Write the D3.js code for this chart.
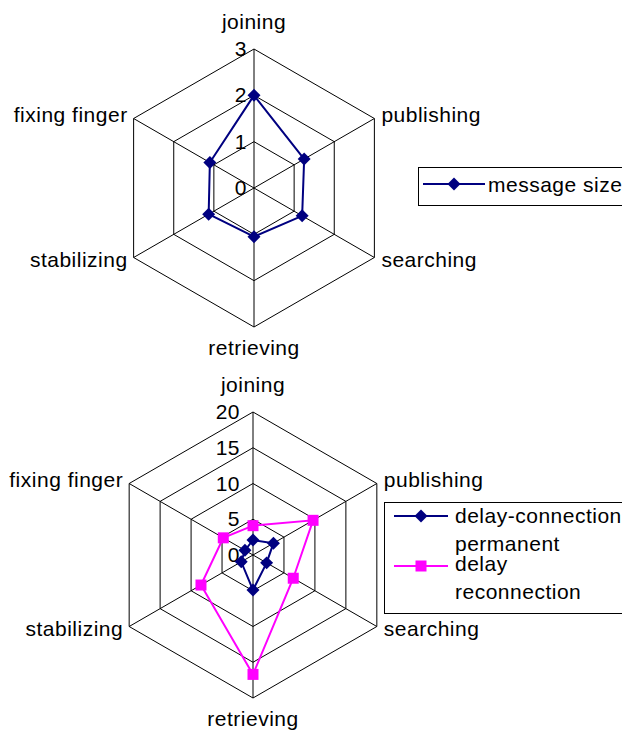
<!DOCTYPE html>
<html>
<head>
<meta charset="utf-8">
<script src="https://cdn.jsdelivr.net/npm/d3@7"></script>
<style>
  body { margin: 0; background: #fff; }
  svg { display: block; }
  text { font-family: "Liberation Sans", Arial, sans-serif; font-size: 21px; fill: #000; letter-spacing: 0.5px; }
</style>
</head>
<body>
<svg id="chart" width="622" height="734"></svg>
<script>
const categories = ["joining", "publishing", "searching", "retrieving", "stabilizing", "fixing finger"];

// top chart
const messageSize = [2, 1.25, 1.2, 1.05, 1.13, 1.1];
const topTicks = [0, 1, 2, 3];
const topSeriesNames = ["message size"];

// bottom chart
const delayConnection = [2.1, 3.3, 2.2, 4.9, 1.9, 1.3];
const permanentDelayReconnection = [4.1, 9.7, 6.5, 16.7, 8.4, 4.8];
const bottomTicks = [0, 5, 10, 15, 20];
const bottomSeriesNames = ["delay-connection", "permanent delay reconnection"];

const NAVY = "#000080";
const PINK = "#ff00ff";

const svg = d3.select("#chart");
const angle = i => i * 2 * Math.PI / categories.length;

const diamond = d3.symbol().type(d3.symbolSquare).size(84);
const square = d3.symbol().type(d3.symbolSquare).size(121);

function drawRadar(opts) {
    const { cx, cy, radius, ticks, tickDx, series } = opts;
    const r = d3.scaleLinear().domain([0, d3.max(ticks)]).range([0, radius]);
    const g = svg.append("g").attr("transform", `translate(${cx},${cy})`);
    const pt = (i, v) => [r(v) * Math.sin(angle(i)), -r(v) * Math.cos(angle(i))];

    // rings
    const ring = d3.lineRadial()
        .angle((d, i) => angle(i))
        .radius(d => r(d))
        .curve(d3.curveLinearClosed);
    g.selectAll("path.ring")
        .data(ticks.filter(t => t > 0))
        .enter().append("path")
        .attr("class", "ring")
        .attr("d", t => ring(categories.map(() => t)))
        .attr("fill", "none")
        .attr("stroke", "#000")
        .attr("stroke-width", 1);

    // spokes
    g.selectAll("line.spoke")
        .data(categories)
        .enter().append("line")
        .attr("class", "spoke")
        .attr("x1", 0).attr("y1", 0)
        .attr("x2", (d, i) => pt(i, d3.max(ticks))[0])
        .attr("y2", (d, i) => pt(i, d3.max(ticks))[1])
        .attr("stroke", "#000")
        .attr("stroke-width", 1);

    // tick labels
    g.selectAll("text.tick")
        .data(ticks)
        .enter().append("text")
        .attr("class", "tick")
        .attr("x", tickDx)
        .attr("y", t => -r(t) + 7)
        .attr("text-anchor", "end")
        .text(t => t);

    // category labels
    g.selectAll("text.cat")
        .data(categories)
        .enter().append("text")
        .attr("class", "cat")
        .each(function (d, i) {
            const [x, y] = pt(i, d3.max(ticks));
            const s = Math.sin(angle(i)), c = Math.cos(angle(i));
            const t = d3.select(this);
            if (Math.abs(s) < 0.01) {
                t.attr("text-anchor", "middle").attr("x", x).attr("y", c > 0 ? y - 20 : y + 28);
            } else {
                t.attr("text-anchor", s > 0 ? "start" : "end")
                    .attr("x", x + (s > 0 ? 7 : -6))
                    .attr("y", y + (c > 0 ? 3 : 9));
            }
        })
        .text(d => d);

    // series
    const line = d3.lineRadial()
        .angle((d, i) => angle(i))
        .radius(d => r(d))
        .curve(d3.curveLinearClosed);
    series.forEach(s => {
        g.append("path")
            .attr("d", line(s.values))
            .attr("fill", "none")
            .attr("stroke", s.color)
            .attr("stroke-width", 2);
        g.selectAll(null)
            .data(s.values)
            .enter().append("path")
            .attr("d", s.symbol)
            .attr("transform", (d, i) => `translate(${pt(i, d)}) rotate(${s.rotate})`)
            .attr("fill", s.color);
    });
}

drawRadar({
    cx: 254, cy: 188, radius: 139, ticks: topTicks, tickDx: -7,
    series: [{ values: messageSize, color: NAVY, symbol: diamond, rotate: 45 }]
});

drawRadar({
    cx: 253, cy: 555, radius: 143, ticks: bottomTicks, tickDx: -13,
    series: [
        { values: delayConnection, color: NAVY, symbol: diamond, rotate: 45 },
        { values: permanentDelayReconnection, color: PINK, symbol: square, rotate: 0 }
    ]
});

// legend top
const legTop = svg.append("g");
legTop.append("rect")
    .attr("x", 418.5).attr("y", 167.5).attr("width", 240).attr("height", 38)
    .attr("fill", "#fff").attr("stroke", "#000");
legTop.append("line")
    .attr("x1", 423).attr("x2", 485).attr("y1", 184).attr("y2", 184)
    .attr("stroke", NAVY).attr("stroke-width", 2);
legTop.append("path")
    .attr("d", diamond).attr("transform", "translate(454,184) rotate(45)").attr("fill", NAVY);
legTop.append("text").attr("x", 488).attr("y", 192).text(topSeriesNames[0]);

// legend bottom
const legBot = svg.append("g");
legBot.append("rect")
    .attr("x", 384.5).attr("y", 502.5).attr("width", 260).attr("height", 111)
    .attr("fill", "#fff").attr("stroke", "#000");
legBot.append("line")
    .attr("x1", 394).attr("x2", 448).attr("y1", 516).attr("y2", 516)
    .attr("stroke", NAVY).attr("stroke-width", 2);
legBot.append("path")
    .attr("d", diamond).attr("transform", "translate(421,516) rotate(45)").attr("fill", NAVY);
legBot.append("text").attr("x", 455).attr("y", 523).text(bottomSeriesNames[0]);
legBot.append("line")
    .attr("x1", 394).attr("x2", 448).attr("y1", 566).attr("y2", 566)
    .attr("stroke", PINK).attr("stroke-width", 2);
legBot.append("path")
    .attr("d", square).attr("transform", "translate(421,566)").attr("fill", PINK);
const wrapY = [551, 571, 599];
legBot.selectAll("text.wrap")
    .data(bottomSeriesNames[1].split(" "))
    .enter().append("text")
    .attr("class", "wrap")
    .attr("x", 455)
    .attr("y", (d, i) => wrapY[i])
    .text(d => d);
</script>
</body>
</html>
